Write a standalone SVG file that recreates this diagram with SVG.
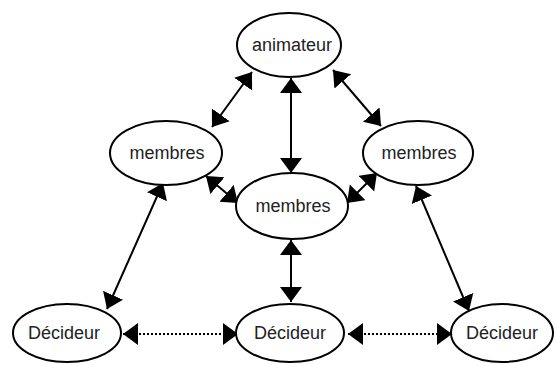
<svg xmlns="http://www.w3.org/2000/svg" width="556" height="365" viewBox="0 0 556 365">
<style>
.n ellipse{fill:#fff;stroke:#000;stroke-width:2}
.n text{font-family:"Liberation Sans",Arial,sans-serif;font-size:18px;fill:#222;text-anchor:middle}
.c line{stroke:#000;stroke-width:2;marker-start:url(#ah);marker-end:url(#ah)}
.c line.d{stroke-dasharray:2,2}
</style>
<defs>
<marker id="ah" markerUnits="userSpaceOnUse" markerWidth="17" markerHeight="24" refX="15" refY="11" orient="auto-start-reverse">
<path d="M0,0 L15,11 L0,22 z" fill="#000"/>
</marker>
</defs>
<rect width="556" height="365" fill="#fff"/>
<g class="c" id="connectors">
<line x1="252" y1="72" x2="212" y2="127"/>
<line x1="291" y1="78" x2="291" y2="173"/>
<line x1="333" y1="70" x2="381" y2="126"/>
<line x1="206" y1="176" x2="238" y2="203"/>
<line x1="377" y1="173" x2="347" y2="203"/>
<line x1="163" y1="183" x2="107" y2="309"/>
<line x1="416" y1="186" x2="469" y2="311"/>
<line x1="291" y1="240" x2="291" y2="302"/>
<line class="d" x1="123" y1="334" x2="238" y2="334"/>
<line class="d" x1="348" y1="334" x2="452" y2="334"/>
</g>
<g class="n" id="animateur"><ellipse cx="289" cy="45" rx="52" ry="32"/><text x="292" y="51">animateur</text></g>
<g class="n" id="membres-left"><ellipse cx="166" cy="153" rx="56" ry="32"/><text x="167" y="159">membres</text></g>
<g class="n" id="membres-right"><ellipse cx="418" cy="153" rx="55" ry="32"/><text x="419" y="159">membres</text></g>
<g class="n" id="membres-center"><ellipse cx="292" cy="206" rx="56" ry="33"/><text x="293" y="212">membres</text></g>
<g class="n" id="decideur-left"><ellipse cx="67" cy="333" rx="54" ry="29"/><text x="64" y="339">Décideur</text></g>
<g class="n" id="decideur-middle"><ellipse cx="290" cy="333" rx="54" ry="29"/><text x="290" y="339">Décideur</text></g>
<g class="n" id="decideur-right"><ellipse cx="502" cy="333" rx="51" ry="29"/><text x="502" y="339">Décideur</text></g>
</svg>
